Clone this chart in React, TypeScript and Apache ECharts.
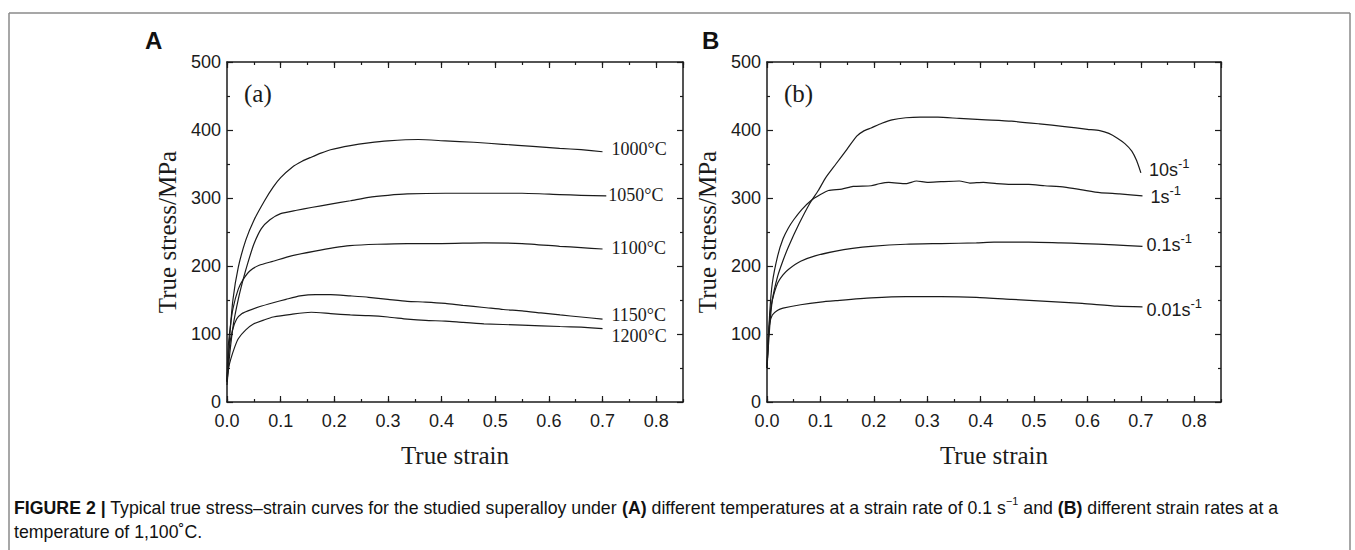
import React, { useEffect, useRef } from "react";
import * as echarts from "echarts";

// ---------- Panel A: different temperatures (0.1 s^-1) ----------
const strainA1000 = [0, 0.005, 0.011, 0.021, 0.035, 0.05, 0.07, 0.086, 0.1, 0.121, 0.14, 0.157, 0.175, 0.193, 0.23, 0.264, 0.3, 0.357, 0.407, 0.46, 0.514, 0.57, 0.62, 0.66, 0.7];
const stressA1000 = [30, 95, 150, 198, 238, 267, 296, 316, 330, 345, 354, 360, 366, 371, 377, 381, 384, 386, 384, 382, 379, 376, 373, 371, 368];

const strainA1050 = [0, 0.005, 0.012, 0.021, 0.03, 0.039, 0.05, 0.064, 0.08, 0.1, 0.13, 0.157, 0.193, 0.23, 0.264, 0.3, 0.336, 0.407, 0.479, 0.55, 0.62, 0.66, 0.707];
const stressA1050 = [25, 70, 115, 151, 180, 205, 232, 255, 268, 277, 282, 286, 291, 296, 301, 304, 306, 307, 307, 307, 305, 304, 303];

const strainA1100 = [0, 0.002, 0.006, 0.011, 0.021, 0.03, 0.043, 0.06, 0.086, 0.12, 0.164, 0.2, 0.229, 0.28, 0.336, 0.4, 0.479, 0.55, 0.62, 0.66, 0.7];
const stressA1100 = [30, 78, 110, 137, 166, 180, 193, 201, 207, 215, 222, 227, 230, 232, 233, 233, 234, 233, 229, 227, 225];

const strainA1150 = [0, 0.004, 0.01, 0.018, 0.028, 0.039, 0.06, 0.086, 0.11, 0.136, 0.165, 0.193, 0.23, 0.264, 0.3, 0.336, 0.37, 0.407, 0.44, 0.479, 0.515, 0.55, 0.585, 0.621, 0.66, 0.7];
const stressA1150 = [30, 78, 105, 122, 130, 134, 140, 146, 151, 156, 158, 158, 156, 154, 151, 148, 147, 145, 142, 139, 136, 134, 131, 128, 125, 122];

const strainA1200 = [0, 0.003, 0.007, 0.014, 0.021, 0.035, 0.05, 0.07, 0.086, 0.12, 0.157, 0.193, 0.23, 0.264, 0.3, 0.336, 0.37, 0.407, 0.44, 0.479, 0.55, 0.621, 0.66, 0.7];
const stressA1200 = [30, 50, 63, 80, 93, 106, 115, 121, 125, 129, 132, 130, 128, 127, 125, 122, 120, 119, 117, 115, 113, 111, 110, 108];

// ---------- Panel B: different strain rates (1100 C) ----------
const strainB10 = [0, 0.005, 0.01, 0.02, 0.03, 0.04, 0.06, 0.08, 0.096, 0.11, 0.129, 0.15, 0.168, 0.18, 0.195, 0.215, 0.234, 0.26, 0.287, 0.32, 0.36, 0.41, 0.458, 0.51, 0.557, 0.6, 0.623, 0.64, 0.656, 0.67, 0.683, 0.692, 0.7];
const stressB10 = [50, 110, 150, 185, 208, 228, 262, 292, 311, 330, 350, 372, 391, 398, 403, 410, 415, 418, 419, 419, 417, 415, 413, 409, 405, 401, 399, 395, 388, 380, 369, 355, 337];

const strainB1 = [0, 0.005, 0.01, 0.02, 0.03, 0.04, 0.05, 0.065, 0.082, 0.1, 0.115, 0.14, 0.161, 0.195, 0.21, 0.228, 0.26, 0.28, 0.3, 0.326, 0.36, 0.38, 0.405, 0.43, 0.458, 0.49, 0.52, 0.557, 0.59, 0.623, 0.66, 0.703];
const stressB1 = [50, 130, 175, 215, 240, 256, 268, 283, 296, 305, 311, 313, 317, 318, 321, 323, 321, 325, 323, 324, 325, 322, 323, 321, 320, 320, 318, 316, 312, 308, 306, 303];

const strainB01 = [0, 0.003, 0.006, 0.01, 0.02, 0.03, 0.04, 0.063, 0.09, 0.129, 0.16, 0.195, 0.26, 0.326, 0.392, 0.425, 0.49, 0.55, 0.59, 0.65, 0.703];
const stressB01 = [50, 100, 130, 150, 175, 187, 195, 207, 215, 222, 226, 229, 232, 233, 234, 235, 235, 234, 233, 231, 229];

const strainB001 = [0, 0.002, 0.005, 0.01, 0.02, 0.03, 0.063, 0.1, 0.129, 0.195, 0.26, 0.326, 0.392, 0.458, 0.524, 0.59, 0.656, 0.703];
const stressB001 = [50, 90, 115, 128, 135, 138, 143, 147, 149, 153, 155, 155, 154, 151, 148, 145, 141, 140];

const xTickFmt = (v: number) => v.toFixed(1);

const INK = "#1b1b1b";
const SANS = "'Liberation Sans', Arial, Helvetica, sans-serif";
const SERIF = "'Liberation Serif', 'Times New Roman', serif";

const pairs = (xs: number[], ys: number[]) => xs.map((x, i) => [x, ys[i]]);

const supRich = {
  m: { fontFamily: SANS, fontSize: 18, color: INK, lineHeight: 18 },
  s: { fontFamily: SANS, fontSize: 13, color: INK, lineHeight: 12, padding: [0, 0, 13, 0] },
};

function curve(name: string, xs: number[], ys: number[], g: number, label: any) {
  return {
    type: "line",
    name,
    xAxisIndex: g * 2,
    yAxisIndex: g * 2,
    data: pairs(xs, ys),
    showSymbol: false,
    smooth: 0.2,
    lineStyle: { color: INK, width: 1.2 },
    endLabel: { show: true, color: INK, ...label },
    z: 5,
  };
}

function tempLabel(text: string, dist: number, dy: number) {
  return { formatter: text, fontFamily: SERIF, fontSize: 18, lineHeight: 18, distance: dist, offset: [0, dy] };
}
function rateLabel(main: string, dist: number, dy: number) {
  return { formatter: `{m|${main}}{s|-1}`, rich: supRich, distance: dist, offset: [0, dy] };
}

const axisLineStyle = { color: INK, width: 1.5 };
const tickStyle = { color: INK, width: 1.2 };

function mainX(g: number, pos: string, labels: boolean) {
  return {
    type: "value", gridIndex: g, position: pos, min: 0, max: 0.85, interval: 0.1,
    splitLine: { show: false },
    axisLine: { show: true, onZero: false, lineStyle: axisLineStyle },
    axisTick: { show: true, inside: true, length: 6, lineStyle: tickStyle },
    axisLabel: labels
      ? { show: true, margin: 10, fontSize: 18, lineHeight: 18, fontFamily: SANS, color: INK, showMaxLabel: false, formatter: xTickFmt }
      : { show: false },
    ...(labels
      ? { name: "True strain", nameLocation: "middle", nameGap: 41, nameTextStyle: { fontFamily: SERIF, fontSize: 25, color: INK } }
      : {}),
  };
}
function minorX(g: number, pos: string) {
  return {
    type: "value", gridIndex: g, position: pos, min: 0, max: 0.85, interval: 0.05,
    splitLine: { show: false },
    axisLine: { show: false, onZero: false },
    axisTick: { show: true, inside: true, length: 3, lineStyle: tickStyle },
    axisLabel: { show: false },
  };
}
function mainY(g: number, pos: string, labels: boolean) {
  return {
    type: "value", gridIndex: g, position: pos, min: 0, max: 500, interval: 100,
    splitLine: { show: false },
    axisLine: { show: true, onZero: false, lineStyle: axisLineStyle },
    axisTick: { show: true, inside: true, length: 6, lineStyle: tickStyle },
    minorTick: { show: true, splitNumber: 2, length: 3, lineStyle: tickStyle },
    axisLabel: labels ? { show: true, margin: 6, fontSize: 18, lineHeight: 18, fontFamily: SANS, color: INK } : { show: false },
    ...(labels
      ? { name: "True stress/MPa", nameLocation: "middle", nameGap: 47, nameTextStyle: { fontFamily: SERIF, fontSize: 25, color: INK } }
      : {}),
  };
}

export default function App() {
  const ref = useRef<HTMLDivElement>(null);
  useEffect(() => {
    document.body.style.margin = "0";
    const chart = echarts.init(ref.current!, null, { renderer: "svg" });
    const gA = { left: 227, top: 62, width: 456, height: 340 };
    const gB = { left: 767, top: 62, width: 454, height: 340 };
    const capRich = {
      b: { fontFamily: SANS, fontSize: 18, fontWeight: "bold", color: "#111", lineHeight: 20 },
      n: { fontFamily: SANS, fontSize: 18, color: "#111", lineHeight: 20 },
      s: { fontFamily: SANS, fontSize: 11, color: "#111", lineHeight: 12, padding: [0, 0, 14, 0] },
    };
    const option: any = {
      animation: false,
      backgroundColor: "#ffffff",
      grid: [gA, gB, gA, gB],
      xAxis: [
        mainX(0, "bottom", true), mainX(0, "top", false),
        mainX(1, "bottom", true), mainX(1, "top", false),
        minorX(2, "bottom"), minorX(2, "top"),
        minorX(3, "bottom"), minorX(3, "top"),
      ],
      yAxis: [
        mainY(0, "left", true), mainY(0, "right", false),
        mainY(1, "left", true), mainY(1, "right", false),
        { type: "value", gridIndex: 2, min: 0, max: 500, show: false },
        { type: "value", gridIndex: 3, min: 0, max: 500, show: false },
      ],
      series: [
        curve("1000°C", strainA1000, stressA1000, 0, tempLabel("1000°C", 9, -3)),
        curve("1050°C", strainA1050, stressA1050, 0, tempLabel("1050°C", 2, -1)),
        curve("1100°C", strainA1100, stressA1100, 0, tempLabel("1100°C", 9, -1)),
        curve("1150°C", strainA1150, stressA1150, 0, tempLabel("1150°C", 9, -4)),
        curve("1200°C", strainA1200, stressA1200, 0, tempLabel("1200°C", 9, 7)),
        curve("10s-1", strainB10, stressB10, 1, rateLabel("10s", 8, -3)),
        curve("1s-1", strainB1, stressB1, 1, rateLabel("1s", 8, 1)),
        curve("0.1s-1", strainB01, stressB01, 1, rateLabel("0.1s", 4, -1)),
        curve("0.01s-1", strainB001, stressB001, 1, rateLabel("0.01s", 4, 3)),
      ],
      graphic: [
        { type: "line", shape: { x1: 9, y1: 13, x2: 1350, y2: 13 }, style: { stroke: "#8a8a8a", lineWidth: 1.5 } },
        { type: "line", shape: { x1: 9, y1: 13, x2: 9, y2: 550 }, style: { stroke: "#8a8a8a", lineWidth: 1.5 } },
        { type: "line", shape: { x1: 1350, y1: 13, x2: 1350, y2: 550 }, style: { stroke: "#8a8a8a", lineWidth: 1.5 } },
        { type: "text", left: 145, top: 28, style: { text: "A", fontFamily: SANS, fontSize: 24, fontWeight: "bold", fill: "#111" } },
        { type: "text", left: 702, top: 28, style: { text: "B", fontFamily: SANS, fontSize: 24, fontWeight: "bold", fill: "#111" } },
        { type: "text", x: 244, y: 93, style: { text: "(a)", fontFamily: SERIF, fontSize: 25, fill: INK, verticalAlign: "middle" } },
        { type: "text", x: 784, y: 93, style: { text: "(b)", fontFamily: SERIF, fontSize: 25, fill: INK, verticalAlign: "middle" } },
        {
          type: "text", x: 14, y: 508, scaleX: 0.985,
          style: {
            text: "{b|FIGURE 2 |}{n| Typical true stress–strain curves for the studied superalloy under }{b|(A)}{n| different temperatures at a strain rate of 0.1 s}{s|−1}{n| and }{b|(B)}{n| different strain rates at a}",
            rich: capRich, verticalAlign: "middle", fill: "#111",
          },
        },
        {
          type: "text", x: 14, y: 532, scaleX: 0.985,
          style: { text: "{n|temperature of 1,100˚C.}", rich: capRich, verticalAlign: "middle", fill: "#111" },
        },
      ],
    };
    chart.setOption(option);
    return () => chart.dispose();
  }, []);
  return <div ref={ref} style={{ width: 1355, height: 550, position: "absolute", left: 0, top: 0 }} />;
}
